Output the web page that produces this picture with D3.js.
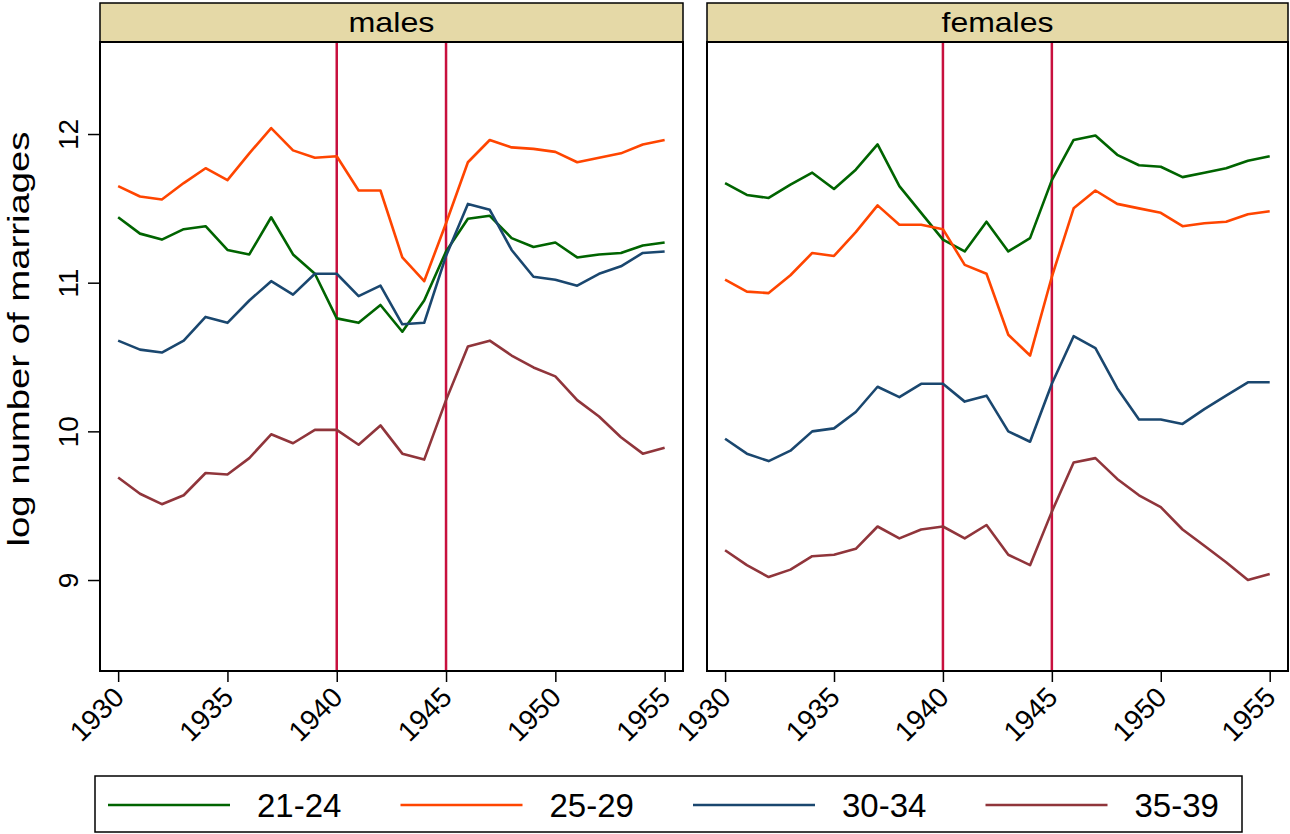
<!DOCTYPE html>
<html lang="en">
<head>
  <meta charset="UTF-8" />
  <title>log number of marriages</title>
  <script src="https://d3js.org/d3.v7.min.js"></script>
  <style>
    body { margin: 0; background: #fff; }
    svg { display: block; font-family: 'Liberation Sans', Arial, sans-serif; }
  </style>
</head>
<body>
  <div id="chart"></div>
  <script>
    const years = [1930, 1931, 1932, 1933, 1934, 1935, 1936, 1937, 1938, 1939, 1940, 1941, 1942,
                   1943, 1944, 1945, 1946, 1947, 1948, 1949, 1950, 1951, 1952, 1953, 1954, 1955];
    const groups = ["21-24", "25-29", "30-34", "35-39"];
    const panels = ["males", "females"];
    const yTicks = [9, 10, 11, 12];
    const xTicks = [1930, 1935, 1940, 1945, 1950, 1955];
    const warYears = [1940, 1945];

    const males2124 = [11.44, 11.33, 11.29, 11.36, 11.38, 11.22, 11.19, 11.44, 11.19, 11.06, 10.76, 10.73, 10.85,
                       10.67, 10.88, 11.21, 11.43, 11.45, 11.30, 11.24, 11.27, 11.17, 11.19, 11.20, 11.25, 11.27];
    const males2529 = [11.65, 11.58, 11.56, 11.67, 11.77, 11.69, 11.87, 12.04, 11.89, 11.84, 11.85, 11.62, 11.62,
                       11.17, 11.01, 11.40, 11.81, 11.96, 11.91, 11.90, 11.88, 11.81, 11.84, 11.87, 11.93, 11.96];
    const males3034 = [10.61, 10.55, 10.53, 10.61, 10.77, 10.73, 10.88, 11.01, 10.92, 11.06, 11.06, 10.91, 10.98,
                       10.72, 10.73, 11.18, 11.53, 11.49, 11.22, 11.04, 11.02, 10.98, 11.06, 11.11, 11.20, 11.21];
    const males3539 = [9.69, 9.58, 9.51, 9.57, 9.72, 9.71, 9.82, 9.98, 9.92, 10.01, 10.01, 9.91, 10.04,
                       9.85, 9.81, 10.21, 10.57, 10.61, 10.51, 10.43, 10.37, 10.21, 10.10, 9.96, 9.85, 9.89];

    const females2124 = [11.67, 11.59, 11.57, 11.66, 11.74, 11.63, 11.76, 11.93, 11.65, 11.47, 11.29, 11.21, 11.41,
                         11.21, 11.30, 11.69, 11.96, 11.99, 11.86, 11.79, 11.78, 11.71, 11.74, 11.77, 11.82, 11.85];
    const females2529 = [11.02, 10.94, 10.93, 11.05, 11.20, 11.18, 11.34, 11.52, 11.39, 11.39, 11.36, 11.12, 11.06,
                         10.65, 10.51, 11.04, 11.50, 11.62, 11.53, 11.50, 11.47, 11.38, 11.40, 11.41, 11.46, 11.48];
    const females3034 = [9.95, 9.85, 9.80, 9.87, 10.00, 10.02, 10.13, 10.30, 10.23, 10.32, 10.32, 10.20, 10.24,
                         10.00, 9.93, 10.32, 10.64, 10.56, 10.29, 10.08, 10.08, 10.05, 10.15, 10.24, 10.33, 10.33];
    const females3539 = [9.20, 9.10, 9.02, 9.07, 9.16, 9.17, 9.21, 9.36, 9.28, 9.34, 9.36, 9.28, 9.37,
                         9.17, 9.10, 9.46, 9.79, 9.82, 9.68, 9.57, 9.49, 9.34, 9.23, 9.12, 9.00, 9.04];

    const seriesByPanel = {
      males: [males2124, males2529, males3034, males3539],
      females: [females2124, females2529, females3034, females3539]
    };

    const colors = ["#006400", "#ff4500", "#1a476f", "#90353b"];

    const width = 1290, height = 834;
    const plotTop = 42, plotBottom = 671, stripTop = 3;
    const panelX = { males: [100, 683], females: [707, 1288] };

    const svg = d3.select("#chart").append("svg")
      .attr("width", width)
      .attr("height", height);

    const y = d3.scaleLinear().domain([8.388, 12.619]).range([plotBottom, plotTop]);

    panels.forEach((name, pi) => {
      const [x0, x1] = panelX[name];
      const x = d3.scaleLinear().domain([1929.17, 1955.84]).range([x0, x1]);
      const g = svg.append("g");

      // strip label
      g.append("rect")
        .attr("x", x0).attr("y", stripTop)
        .attr("width", x1 - x0).attr("height", plotTop - stripTop)
        .attr("fill", "#e5d9a7")
        .attr("stroke", "#000").attr("stroke-width", 1.5);
      g.append("text")
        .attr("x", (x0 + x1) / 2).attr("y", 32)
        .attr("text-anchor", "middle")
        .attr("font-size", 28)
        .attr("textLength", name === "males" ? 86 : 112)
        .attr("lengthAdjust", "spacingAndGlyphs")
        .text(name);

      // war years
      g.selectAll(".war")
        .data(warYears)
        .join("line")
        .attr("x1", d => x(d)).attr("x2", d => x(d))
        .attr("y1", plotTop).attr("y2", plotBottom)
        .attr("stroke", "#c8103e").attr("stroke-width", 2.5);

      // series
      const line = d3.line()
        .x((d, i) => x(years[i]))
        .y(d => y(d));

      g.selectAll(".series")
        .data(seriesByPanel[name])
        .join("path")
        .attr("fill", "none")
        .attr("stroke", (d, i) => colors[i])
        .attr("stroke-width", 2.6)
        .attr("stroke-linejoin", "round")
        .attr("d", line);

      // plot frame
      g.append("rect")
        .attr("x", x0).attr("y", plotTop)
        .attr("width", x1 - x0).attr("height", plotBottom - plotTop)
        .attr("fill", "none")
        .attr("stroke", "#000").attr("stroke-width", 2);

      // x axis
      const xAxis = g.append("g")
        .attr("transform", `translate(0,${plotBottom})`)
        .call(d3.axisBottom(x).tickValues(xTicks).tickSize(11).tickSizeOuter(0).tickFormat(d3.format("d")));
      xAxis.select(".domain").remove();
      xAxis.selectAll(".tick line").attr("stroke", "#000").attr("stroke-width", 1.5);
      xAxis.selectAll(".tick text")
        .attr("font-size", 28)
        .attr("font-family", "'Liberation Sans', Arial, sans-serif")
        .attr("fill", "#000")
        .attr("text-anchor", "end")
        .attr("y", 0).attr("dy", 0)
        .attr("transform", "translate(7,28) rotate(-45)");

      // y axis on first panel only
      if (pi === 0) {
        const yAxis = g.append("g")
          .attr("transform", `translate(${x0},0)`)
          .call(d3.axisLeft(y).tickValues(yTicks).tickSize(12).tickSizeOuter(0).tickFormat(d3.format("d")));
        yAxis.select(".domain").remove();
        yAxis.selectAll(".tick line").attr("stroke", "#000").attr("stroke-width", 1.5);
        yAxis.selectAll(".tick text")
          .attr("font-size", 28)
          .attr("font-family", "'Liberation Sans', Arial, sans-serif")
          .attr("fill", "#000")
          .attr("text-anchor", "middle")
          .attr("x", 0).attr("dy", 0)
          .attr("transform", "translate(-22,0) rotate(-90)");
      }
    });

    // y title
    svg.append("text")
      .attr("transform", `translate(29,${(130 + 548) / 2}) rotate(-90)`)
      .attr("text-anchor", "middle")
      .attr("font-size", 30)
      .attr("textLength", 415)
      .attr("lengthAdjust", "spacingAndGlyphs")
      .text("log number of marriages");

    // legend
    const legend = svg.append("g");
    legend.append("rect")
      .attr("x", 95).attr("y", 776)
      .attr("width", 1147).attr("height", 56)
      .attr("fill", "#fff")
      .attr("stroke", "#000").attr("stroke-width", 1.5);

    const item = legend.selectAll(".item")
      .data(groups)
      .join("g")
      .attr("transform", (d, i) => `translate(${108 + i * 292.5},805)`);
    item.append("line")
      .attr("x1", 0).attr("x2", 122)
      .attr("stroke", (d, i) => colors[i])
      .attr("stroke-width", 2.6);
    item.append("text")
      .attr("x", 149).attr("y", 12)
      .attr("font-size", 33)
      .text(d => d);
  </script>
</body>
</html>
